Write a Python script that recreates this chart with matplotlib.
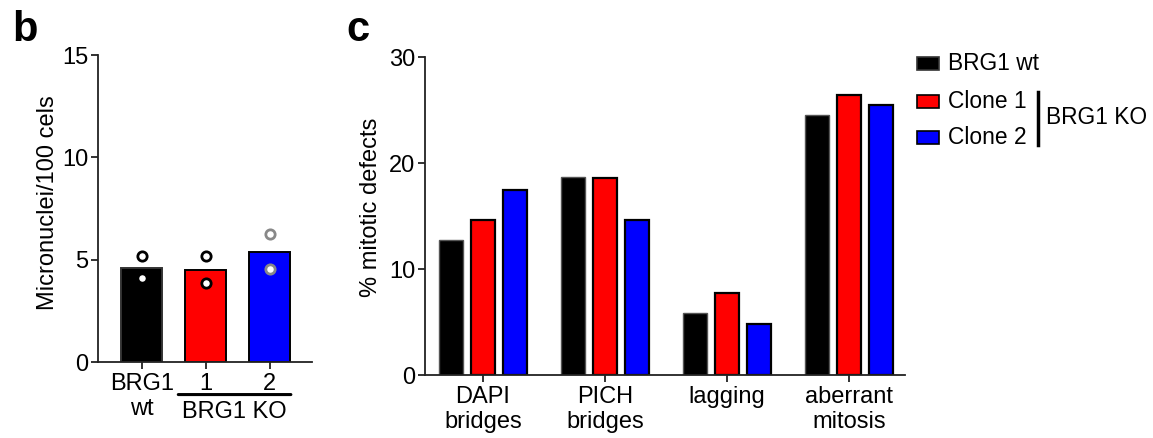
import matplotlib
matplotlib.use("Agg")
import matplotlib.pyplot as plt
import numpy as np

plt.rcParams['font.family'] = ['Liberation Sans', 'DejaVu Sans']

# ---- Panel b data ----
b_groups = ["BRG1\nwt", "1", "2"]
b_means = [4.62, 4.51, 5.36]
b_points = [[5.21, 4.10], [5.21, 3.86], [6.24, 4.55]]
b_colors = ["#000000", "#ff0000", "#0000ff"]
b_point_edges = ["#000000", "#000000", "#888888"]
b_yticks = [0, 5, 10, 15]

# ---- Panel c data ----
c_categories = ["DAPI\nbridges", "PICH\nbridges", "lagging", "aberrant\nmitosis"]
c_series = ["BRG1 wt", "Clone 1", "Clone 2"]
c_wt = [12.7, 18.65, 5.82, 24.5]
c_clone1 = [14.6, 18.55, 7.7, 26.4]
c_clone2 = [17.5, 14.6, 4.8, 25.5]
c_yticks = [0, 10, 20, 30]

FS = 17
W, H = 1153, 438
fig = plt.figure(figsize=(W / 100, H / 100), dpi=100)

def style_axes(ax):
    for s in ["top", "right"]:
        ax.spines[s].set_visible(False)
    for s in ["left", "bottom"]:
        ax.spines[s].set_linewidth(1.3)
        ax.spines[s].set_color("#222222")
    ax.tick_params(axis="both", direction="out", length=5, width=1.3,
                   color="#222222", labelsize=FS, pad=2)
    ax.tick_params(axis="x", pad=3)

# ---------- Panel b ----------
axb = fig.add_axes([98.3 / W, 1 - 362.3 / H, (312 - 98.3) / W, (362.3 - 55) / H])
xb = np.arange(len(b_groups))
edges_b = ["#333333", "#000000", "#000000"]
for i in range(len(b_groups)):
    axb.bar(xb[i], b_means[i], width=0.64, color=b_colors[i],
            edgecolor=edges_b[i], linewidth=1.4, zorder=2)
    axb.scatter([xb[i]] * len(b_points[i]), b_points[i], s=45,
                facecolor="white", edgecolor=b_point_edges[i],
                linewidth=2.0, zorder=3)
axb.set_xlim(-0.68, 2.66)
axb.set_ylim(0, 15)
axb.set_yticks(b_yticks)
axb.set_xticks(xb)
axb.set_xticklabels(b_groups, linespacing=1.15)
style_axes(axb)
fig.text(48 / W, 1 - 203 / H, "Micronuclei/100 cels", fontsize=FS,
         rotation=90, ha="center", va="center")
# BRG1 KO bracket
axb.annotate("", xy=(0.57, -0.105), xycoords=("data", "axes fraction"),
             xytext=(2.33, -0.105), textcoords=("data", "axes fraction"),
             arrowprops=dict(arrowstyle="-", lw=2.2, color="black",
                             shrinkA=0, shrinkB=0))
fig.text(234 / W, 1 - 412 / H, "BRG1 KO", ha="center", va="center", fontsize=FS)

fig.text(12 / W, 1 - 30 / H, "b", fontsize=30, fontweight="bold",
         ha="left", va="center")

# ---------- Panel c ----------
axc = fig.add_axes([425 / W, 1 - 375 / H, (905 - 425) / W, (375 - 57) / H])
xc = np.arange(len(c_categories))
off = 0.265
bw = 0.197
axc.bar(xc - off, c_wt, width=bw, color="#000000", edgecolor="#555555",
        linewidth=1.0, label=c_series[0], zorder=2)
axc.bar(xc, c_clone1, width=bw, color="#ff0000", edgecolor="#000000",
        linewidth=1.6, label=c_series[1], zorder=2)
axc.bar(xc + off, c_clone2, width=bw, color="#0000ff", edgecolor="#000000",
        linewidth=1.6, label=c_series[2], zorder=2)
axc.set_xlim(-0.475, 3.46)
axc.set_ylim(0, 30)
axc.set_yticks(c_yticks)
axc.set_xticks(xc)
axc.set_xticklabels(c_categories, linespacing=1.15)
style_axes(axc)
fig.text(371 / W, 1 - 207 / H, "% mitotic defects", fontsize=FS,
         rotation=90, ha="center", va="center")

fig.text(346 / W, 1 - 30 / H, "c", fontsize=30, fontweight="bold",
         ha="left", va="center")

# ---------- Legend (manual) ----------
LFS = 16.4
leg_colors = ["#000000", "#ff0000", "#0000ff"]
leg_edges = ["#333333", "#000000", "#000000"]
leg_y = [63, 101, 137]
for name, col, ec, y in zip(c_series, leg_colors, leg_edges, leg_y):
    fig.patches.append(plt.Rectangle((917 / W, 1 - (y + 6.5) / H), 22 / W, 13 / H,
                                     transform=fig.transFigure, facecolor=col,
                                     edgecolor=ec, linewidth=1.2))
    fig.text(948 / W, 1 - y / H, name, fontsize=LFS, ha="left", va="center")
fig.lines.append(plt.Line2D([1038 / W, 1038 / W], [1 - 92 / H, 1 - 145 / H],
                            transform=fig.transFigure, color="black", lw=2.5))
fig.text(1046 / W, 1 - 118 / H, "BRG1 KO", fontsize=LFS, ha="left", va="center")

fig.savefig("out.png", dpi=100)
